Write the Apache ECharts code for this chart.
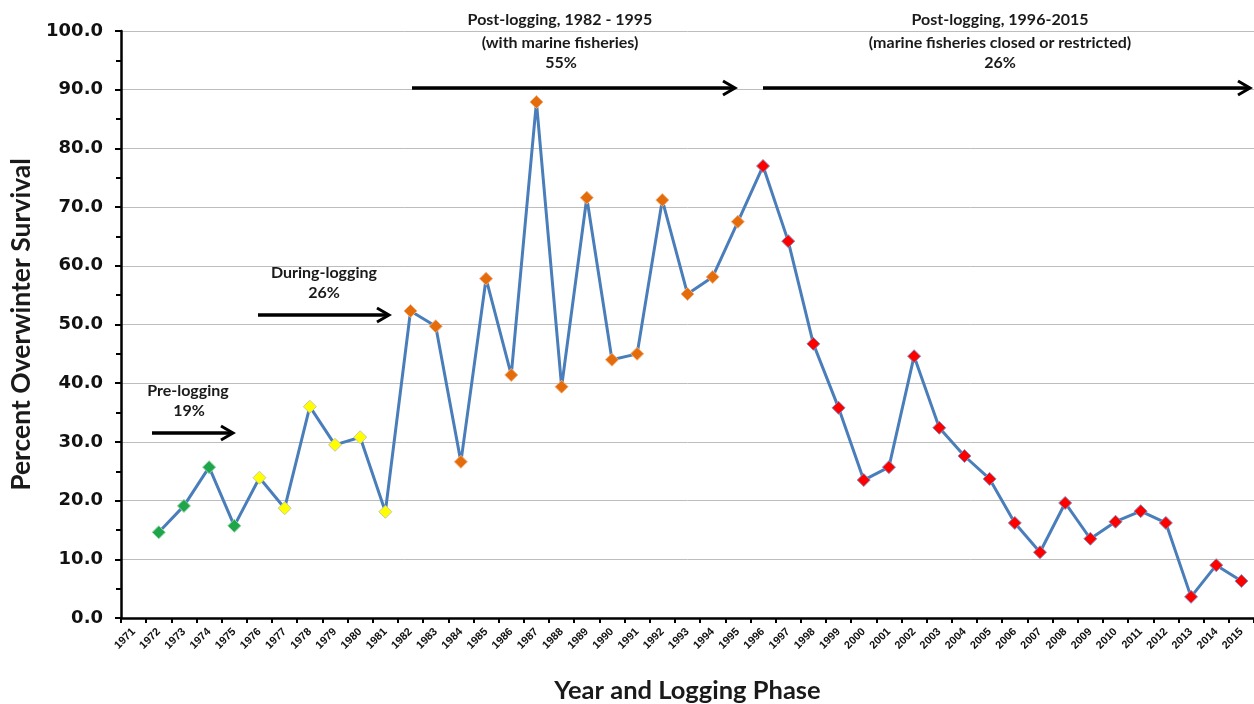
<!DOCTYPE html>
<html><head><meta charset="utf-8">
<script src="https://cdn.jsdelivr.net/npm/echarts@6/dist/echarts.min.js"></script>
<style>html,body{margin:0;padding:0;background:#fff}#c{width:1254px;height:704px}</style>
</head><body><div id="c"></div>
<script>
const years = [];
for (let y = 1971; y <= 2015; y++) years.push(String(y));
const survival = [null, 14.6, 19.1, 25.7, 15.7, 23.9, 18.7, 36.0, 29.5, 30.8, 18.1,
  52.3, 49.7, 26.6, 57.8, 41.4, 87.9, 39.4, 71.6, 44.0, 45.0, 71.2, 55.2, 58.1, 67.5,
  77.0, 64.2, 46.7, 35.8, 23.5, 25.7, 44.6, 32.4, 27.6, 23.7, 16.2, 11.2, 19.6, 13.5,
  16.4, 18.2, 16.2, 3.6, 9.0, 6.3];
const phase = [null, 'pre', 'pre', 'pre', 'pre', 'during', 'during', 'during', 'during', 'during', 'during',
  'post1', 'post1', 'post1', 'post1', 'post1', 'post1', 'post1', 'post1', 'post1', 'post1', 'post1', 'post1', 'post1', 'post1',
  'post2', 'post2', 'post2', 'post2', 'post2', 'post2', 'post2', 'post2', 'post2', 'post2', 'post2', 'post2', 'post2', 'post2',
  'post2', 'post2', 'post2', 'post2', 'post2', 'post2'];
const yTicks = [0, 10, 20, 30, 40, 50, 60, 70, 80, 90, 100];

const phaseStyle = {
  pre: {color: '#1fa64a', borderColor: '#8fd3a0'},
  during: {color: '#ffff00', borderColor: '#c8c8a0'},
  post1: {color: '#e46c0a', borderColor: '#f0b080'},
  post2: {color: '#ff0000', borderColor: '#8090c0'}
};

const data = survival.map((v, i) => v === null ? '-' : {
  value: v,
  itemStyle: {color: phaseStyle[phase[i]].color, borderColor: phaseStyle[phase[i]].borderColor, borderWidth: 1}
});

const chart = echarts.init(document.getElementById('c'));
const tf = 'Lato, "Open Sans", sans-serif';

function arrow(x1, x2, y) {
  return [
    {type: 'line', z: 100, shape: {x1: x1, y1: y, x2: x2 - 2, y2: y}, style: {stroke: '#000', lineWidth: 3.5}},
    {type: 'polyline', z: 100, shape: {points: [[x2 - 12, y - 7], [x2, y], [x2 - 12, y + 7]]}, style: {stroke: '#000', lineWidth: 3, fill: null}}
  ];
}
function txt(x, y, s) {
  return {type: 'text', z: 100, x: x, y: y, style: {text: s, font: 'bold 16px ' + tf, fill: '#1a1a1a', align: 'center', verticalAlign: 'middle'}};
}

chart.setOption({
  animation: false,
  grid: {left: 121, right: 0, top: 31, bottom: 86, containLabel: false, outerBoundsMode: 'none'},
  xAxis: {
    type: 'category', data: years, boundaryGap: true,
    name: 'Year and Logging Phase', nameLocation: 'middle', nameGap: 60,
    nameTextStyle: {fontFamily: tf, fontWeight: 'bold', fontSize: 25.5, color: '#1a1a1a'},
    axisLine: {lineStyle: {color: '#000', width: 2.5}},
    axisTick: {show: true, interval: 0, length: 5, lineStyle: {color: '#000', width: 2}},
    axisLabel: {interval: 0, rotate: 45, fontSize: 11, fontWeight: 'bold', fontFamily: '"Liberation Sans", sans-serif', color: '#111', margin: 12},
    splitLine: {show: false}
  },
  yAxis: {
    type: 'value', min: 0, max: 100, interval: 10,
    name: 'Percent Overwinter Survival', nameLocation: 'middle', nameGap: 66, nameRotate: 90,
    nameTextStyle: {fontFamily: tf, fontWeight: 'bold', fontSize: 26.5, color: '#1a1a1a'},
    axisLine: {show: true, lineStyle: {color: '#000', width: 2.5}},
    axisTick: {show: true, length: 6, lineStyle: {color: '#000', width: 2}},
    minorTick: {show: true, splitNumber: 2, length: 5, lineStyle: {color: '#000', width: 2}},
    axisLabel: {fontSize: 18, fontWeight: 'bold', fontFamily: 'DejaVu Sans', color: '#111', margin: 18,
      formatter: v => yTicks.includes(v) ? v.toFixed(1) : ''},
    splitLine: {lineStyle: {color: '#bdbdbd', width: 1}}
  },
  series: [{
    type: 'line', data: data, symbol: 'diamond', symbolSize: 13, connectNulls: false,
    lineStyle: {color: '#4a7ebb', width: 3}, itemStyle: {color: '#4a7ebb'}
  }],
  graphic: [].concat(
    arrow(152, 233, 433), arrow(258, 389, 315), arrow(412, 735, 88), arrow(763, 1250, 88),
    [txt(188, 391, 'Pre-logging'), txt(189, 411, '19%'),
     txt(324, 273, 'During-logging'), txt(324, 293, '26%'),
     txt(560, 20, 'Post-logging, 1982 - 1995'), txt(560, 43, '(with marine fisheries)'), txt(561, 63, '55%'),
     txt(1000, 20, 'Post-logging, 1996-2015'), txt(1000, 43, '(marine fisheries closed or restricted)'), txt(1000, 63, '26%')]
  )
});
</script></body></html>
